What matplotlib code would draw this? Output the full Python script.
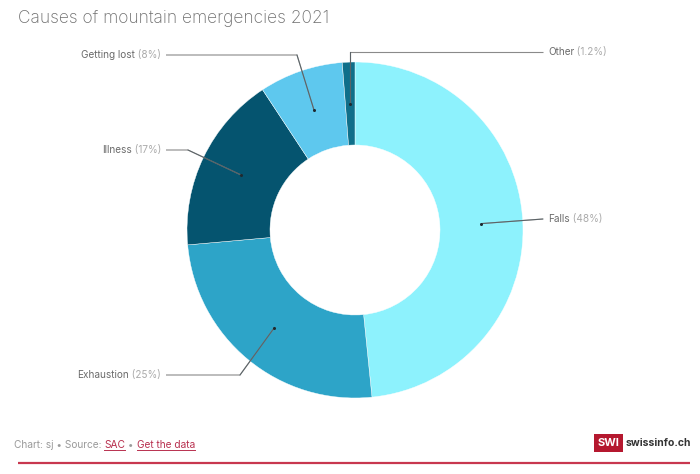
import matplotlib
matplotlib.use("Agg")
import matplotlib.pyplot as plt
import numpy as np
from matplotlib.patches import Rectangle

plt.rcParams["font.family"] = ["Inter", "DejaVu Sans"]

# data
causes = ["Falls", "Exhaustion", "Illness", "Getting lost", "Other"]
shares = [48, 25, 17, 8, 1.2]
share_labels = ["48%", "25%", "17%", "8%", "1.2%"]
colors = ["#8df2fd", "#2da4c8", "#05546f", "#5ec8ee", "#0f6f8a"]

W, H = 700, 474
CX, CY = 355, H - 230
R_OUT, R_IN = 168, 85

# label layout (pixels from top-left): text anchor x, text y, elbow x, side
layout = {
    "Falls": (548, 219, None, "right"),
    "Exhaustion": (161, 375, 240, "left"),
    "Illness": (161, 150, 188, "left"),
    "Getting lost": (161, 55, 297, "left"),
    "Other": (548, 52, "dot", "right"),
}

NAME_C = "#6b6b6b"
PCT_C = "#ababab"
LINE_C = "#8a8a8a"
RED = "#b8304f"

fig = plt.figure(figsize=(W / 100, H / 100), dpi=100)
ax = fig.add_axes([0, 0, 1, 1])

wedges, _ = ax.pie(shares, colors=colors, startangle=90, counterclock=False,
                   center=(CX, CY), radius=R_OUT,
                   wedgeprops=dict(width=R_OUT - R_IN, edgecolor="white",
                                   linewidth=0.3))
ax.set_xlim(0, W)
ax.set_ylim(0, H)
ax.set_aspect("equal")
ax.axis("off")

r_dot = (R_OUT + R_IN) / 2
for w, name, pct in zip(wedges, causes, share_labels):
    mid = np.deg2rad((w.theta1 + w.theta2) / 2)
    dx, dy = CX + r_dot * np.cos(mid), CY + r_dot * np.sin(mid)
    tx, ty, ex, side = layout[name]
    ty = H - ty
    if side == "left":
        xs = [tx + 5, ex, dx]
        ys = [ty, ty, dy]
    elif ex == "dot":
        xs = [tx - 5, dx, dx]
        ys = [ty, ty, dy]
    else:
        xs = [tx - 5, dx]
        ys = [ty, dy]
    ax.plot(xs, ys, color=LINE_C, lw=0.8, solid_capstyle="butt")
    # the part over the slice looks darker
    ax.plot(xs[-2:], ys[-2:], color="#3d4a50", lw=0.8, alpha=0.6)
    ax.plot(dx, dy, "o", color="#1e2a30", ms=2.2, mec="none")

    if side == "left":
        t = ax.text(tx, ty, f" ({pct})", ha="right", va="center",
                    color=PCT_C, fontsize=7.2)
        ax.annotate(name, xy=(0, 0.5), xycoords=t, ha="right", va="center",
                    color=NAME_C, fontsize=7.2)
    else:
        t = ax.text(tx, ty, name, ha="left", va="center",
                    color=NAME_C, fontsize=7.2)
        ax.annotate(f" ({pct})", xy=(1, 0.5), xycoords=t, ha="left",
                    va="center", color=PCT_C, fontsize=7.2)

# title
ax.text(18, H - 18, "Causes of mountain emergencies 2021", ha="left",
        va="center", fontsize=12.5, color="#6e6e6e", fontweight="light")

# footer
fy = H - 448
parts = [("Chart: sj • Source: ", "#9a9a9a", False), ("SAC", RED, True),
         (" • ", "#9a9a9a", False), ("Get the data", RED, True)]
prev = None
links = []
for txt, c, link in parts:
    if prev is None:
        prev = ax.text(14, fy, txt, ha="left", va="baseline", fontsize=7.3,
                       color=c)
    else:
        prev = ax.annotate(txt, xy=(1, 0), xycoords=prev, ha="left",
                           va="bottom", fontsize=7.3, color=c)
    if link:
        links.append(prev)

fig.canvas.draw()
for t in links:
    bb = t.get_window_extent()
    ax.plot([bb.x0, bb.x1], [fy - 2, fy - 2], color=RED, lw=0.7)

ax.plot([18, 690], [H - 463, H - 463], color="#c8374f", lw=1.6,
        solid_capstyle="butt")

# logo
ax.add_patch(Rectangle((594, H - 452), 29, 18, color="#b5182f", lw=0))
ax.text(608.5, H - 443, "SWI", ha="center", va="center", fontsize=8,
        color="white", fontweight="bold")
ax.text(626, H - 443, "swissinfo.ch", ha="left", va="center", fontsize=7.5,
        color="#333333", fontweight="bold")

fig.savefig("out.png", dpi=100)
